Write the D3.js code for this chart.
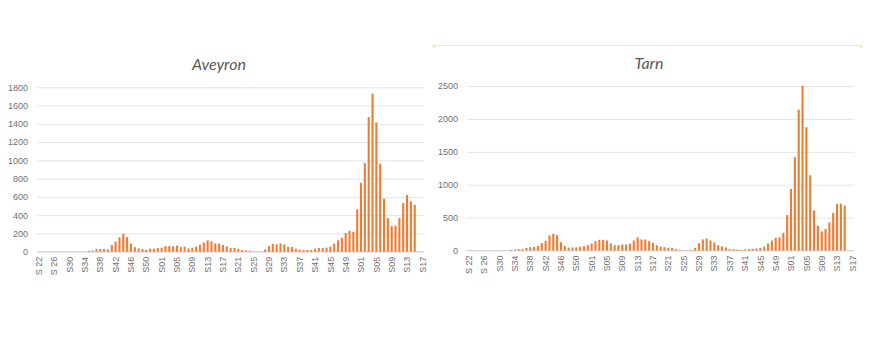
<!DOCTYPE html>
<html><head><meta charset="utf-8">
<script src="https://cdn.jsdelivr.net/npm/d3@7"></script>
<style>
html,body{margin:0;padding:0;background:#fff;}
svg{display:block;font-family:Lato,"Open Sans",sans-serif;}
</style>
</head><body>
<svg id="chart" width="870" height="350"></svg>
<script>
// ---- categories (weekly, 2020-S22 .. 2022-S17)
const weeks = [
 "2020-S22","2020-S23","2020-S24","2020-S25","2020-S26","2020-S27","2020-S28","2020-S29","2020-S30","2020-S31",
 "2020-S32","2020-S33","2020-S34","2020-S35","2020-S36","2020-S37","2020-S38","2020-S39","2020-S40","2020-S41",
 "2020-S42","2020-S43","2020-S44","2020-S45","2020-S46","2020-S47","2020-S48","2020-S49","2020-S50","2020-S51",
 "2020-S52","2020-S53",
 "2021-S01","2021-S02","2021-S03","2021-S04","2021-S05","2021-S06","2021-S07","2021-S08","2021-S09","2021-S10",
 "2021-S11","2021-S12","2021-S13","2021-S14","2021-S15","2021-S16","2021-S17","2021-S18","2021-S19","2021-S20",
 "2021-S21","2021-S22","2021-S23","2021-S24","2021-S25","2021-S26","2021-S27","2021-S28","2021-S29","2021-S30",
 "2021-S31","2021-S32","2021-S33","2021-S34","2021-S35","2021-S36","2021-S37","2021-S38","2021-S39","2021-S40",
 "2021-S41","2021-S42","2021-S43","2021-S44","2021-S45","2021-S46","2021-S47","2021-S48","2021-S49","2021-S50",
 "2021-S51","2021-S52",
 "2022-S01","2022-S02","2022-S03","2022-S04","2022-S05","2022-S06","2022-S07","2022-S08","2022-S09","2022-S10",
 "2022-S11","2022-S12","2022-S13","2022-S14","2022-S15","2022-S16","2022-S17"
];

// ---- tick labels shown on the x axis
const tickWeeks = ["2020-S22","2020-S26","2020-S30","2020-S34","2020-S38","2020-S42","2020-S46","2020-S50",
 "2021-S01","2021-S05","2021-S09","2021-S13","2021-S17","2021-S21","2021-S25","2021-S29","2021-S33","2021-S37",
 "2021-S41","2021-S45","2021-S49","2022-S01","2022-S05","2022-S09","2022-S13","2022-S17"];
const tickLabels = ["S 22","S 26","S30","S34","S38","S42","S46","S50","S01","S05","S09","S13","S17","S21","S25",
 "S29","S33","S37","S41","S45","S49","S01","S05","S09","S13","S17"];

// ---- series values (one per week, null = no data)
const aveyron = [
 0,0,0,0,0,0,0,0,0,0,0,0,0,
 10,12,30,30,30,25,73,110,157,197,
 160,88,50,37,30,22,33,33,40,44,
 62,62,58,66,51,55,36,44,55,77,
 102,124,113,91,88,73,58,40,40,30,
 18,15,11,2,2,3,25,62,84,80,
 91,80,55,51,33,22,18,18,18,33,
 40,40,44,55,88,124,153,204,230,219,
 463,755,970,1473,1730,1415,963,580,368,281,
 284,368,532,620,551,514,
 null,null
];
const tarn = [
 0,0,0,0,0,0,0,0,0,0,0,
 10,15,20,20,40,51,56,71,112,147,
 229,254,234,127,71,46,46,46,56,66,
 81,107,142,162,162,152,107,81,81,91,
 91,102,152,198,168,168,142,117,81,56,
 51,41,41,20,10,5,5,10,41,112,
 168,183,152,122,81,61,46,20,20,15,
 10,15,20,25,30,41,61,107,152,193,
 198,269,538,935,1420,2140,2500,1874,1143,609,
 376,290,325,427,569,706,711,685,
 null,null
];

const aveyronTicks = [0,200,400,600,800,1000,1200,1400,1600,1800];
const tarnTicks = [0,500,1000,1500,2000,2500];

const svg = d3.select("#chart");
svg.append("rect").attr("width",870).attr("height",350).attr("fill","#fff");

function panel(cfg){
  const g = svg.append("g");
  const x = d3.scaleBand().domain(weeks).range([cfg.x0, cfg.x1]).paddingInner(0.45).paddingOuter(0.225);
  const y = d3.scaleLinear().domain([0, cfg.max]).range([cfg.yBottom, cfg.yTop]);

  // gridlines + y labels
  const ya = g.append("g").attr("transform", `translate(${cfg.x0},0)`)
    .call(d3.axisLeft(y).tickValues(cfg.ticks).tickSize(-(cfg.x1 - cfg.x0)).tickPadding(9).tickFormat(d3.format("d")));
  ya.select(".domain").remove();
  ya.selectAll(".tick line").attr("stroke", "#e4e4e4").attr("stroke-width", 1);
  ya.selectAll(".tick text").attr("fill", "#6f6f6f").style("font-size", "9px");

  // baseline
  g.append("line").attr("x1", cfg.x0).attr("x2", cfg.x1)
    .attr("y1", y(0)).attr("y2", y(0)).attr("stroke", "#d6d6d6");

  // bars
  const data = weeks.map((w, i) => ({w, v: cfg.values[i]})).filter(d => d.v != null && d.v > 0);
  g.append("g").selectAll("rect").data(data).join("rect")
    .attr("x", d => x(d.w)).attr("width", x.bandwidth())
    .attr("y", d => y(d.v)).attr("height", d => y(0) - y(d.v))
    .attr("fill", "#ED7D31");

  // x axis labels
  const xa = g.append("g").attr("transform", `translate(0,${y(0)})`)
    .call(d3.axisBottom(x).tickValues(tickWeeks).tickSize(0)
      .tickFormat(d => tickLabels[tickWeeks.indexOf(d)]));
  xa.select(".domain").remove();
  xa.selectAll(".tick text")
    .attr("transform", "rotate(-90)")
    .attr("text-anchor", "end")
    .attr("x", -5).attr("y", 0).attr("dy", "0.35em")
    .attr("fill", "#6f6f6f").style("font-size", "9px");

  // title
  g.append("text").attr("x", cfg.titleX).attr("y", cfg.titleY)
    .attr("text-anchor", "middle").attr("fill", "#595959")
    .style("font-size", "16px").style("font-style", "italic")
    .text(cfg.title);
}

// Tarn frame (faint top edge with selection marks)
svg.append("line").attr("x1", 433).attr("x2", 862).attr("y1", 45.5).attr("y2", 45.5).attr("stroke", "#e6e6e6");
svg.append("path").attr("d", "M433,48 L435,45.5").attr("stroke", "#f2e35a").attr("stroke-width", 1.2).attr("fill", "none");
svg.append("path").attr("d", "M860,45.5 L862,48").attr("stroke", "#f2e35a").attr("stroke-width", 1.2).attr("fill", "none");

panel({title: "Aveyron", values: aveyron, max: 1800, ticks: aveyronTicks,
  x0: 37, x1: 424.3, yBottom: 251.7, yTop: 87.3, titleX: 219, titleY: 70});
panel({title: "Tarn", values: tarn, max: 2500, ticks: tarnTicks,
  x0: 467, x1: 854.3, yBottom: 250.5, yTop: 86, titleX: 649, titleY: 69});
</script>
</body></html>
